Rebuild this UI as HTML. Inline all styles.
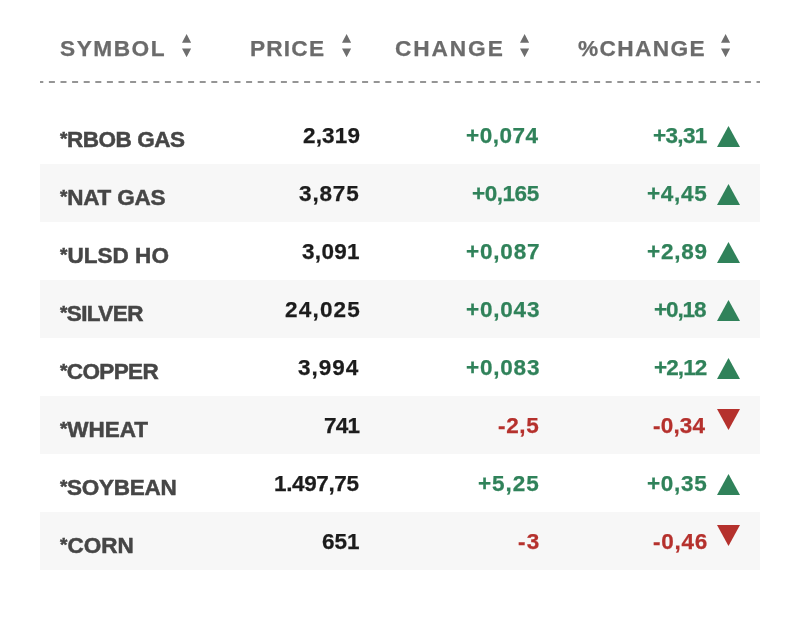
<!DOCTYPE html><html><head><meta charset="utf-8"><title>Commodities</title><style>
*{margin:0;padding:0;box-sizing:border-box}
html,body{width:800px;height:640px;background:#fff;overflow:hidden}
body{position:relative;font-family:"Liberation Sans",Arial,sans-serif;font-weight:bold}
.sym,.num,.h{will-change:transform}
.sym{-webkit-text-stroke:0.5px currentColor}
.num{-webkit-text-stroke:0.25px currentColor}
.h{-webkit-text-stroke:0.25px currentColor}
.h{position:absolute;top:38px;font-size:22.7px;line-height:20px;color:#6b6b6b;white-space:nowrap}
.s{position:absolute;top:34.1px}
.dash{position:absolute;left:0;top:0}
.row{position:absolute;left:40px;width:720px;height:58px}
.row.z{background:#f7f7f7}
.sym{position:absolute;left:20px;top:24.0px;font-size:22.5px;line-height:20px;color:#464646;white-space:nowrap}
.num{position:absolute;top:20.0px;font-size:22.5px;line-height:20px;white-space:nowrap;text-align:right}
.pr{color:#1c1c1c}
.g{color:#30825a}
.r{color:#b5312d}
.a{font-size:19px;position:relative;top:-2.4px;margin-right:0.0px;margin-left:0px}
.tri{position:absolute;left:677px}
</style></head><body>
<div class="h" style="left:59.51px;letter-spacing:1.496px">SYMBOL</div>
<div class="h" style="left:249.92px;letter-spacing:1.177px">PRICE</div>
<div class="h" style="left:394.77px;letter-spacing:1.896px">CHANGE</div>
<div class="h" style="left:577.82px;letter-spacing:1.338px">%CHANGE</div>
<svg class="s" style="left:182.00px" width="9.2" height="23.2" viewBox="0 0 9.2 23.2"><path d="M4.6 0L9.2 8.8H0Z M0 14.4H9.2L4.6 23.2Z" fill="#6e6e6e"/></svg>
<svg class="s" style="left:341.60px" width="9.2" height="23.2" viewBox="0 0 9.2 23.2"><path d="M4.6 0L9.2 8.8H0Z M0 14.4H9.2L4.6 23.2Z" fill="#6e6e6e"/></svg>
<svg class="s" style="left:519.80px" width="9.2" height="23.2" viewBox="0 0 9.2 23.2"><path d="M4.6 0L9.2 8.8H0Z M0 14.4H9.2L4.6 23.2Z" fill="#6e6e6e"/></svg>
<svg class="s" style="left:721.25px" width="9.2" height="23.2" viewBox="0 0 9.2 23.2"><path d="M4.6 0L9.2 8.8H0Z M0 14.4H9.2L4.6 23.2Z" fill="#6e6e6e"/></svg>
<svg class="dash" width="800" height="100"><line x1="40" y1="82" x2="760" y2="82" stroke="#959595" stroke-width="2" stroke-dasharray="6 5.6" stroke-dashoffset="2.7"/></svg>
<div class="row" style="top:106px"><div class="sym" style="letter-spacing:-0.455px;margin-left:0.01px"><span class="a">*</span>RBOB GAS</div><div class="num pr" style="right:400.32px;letter-spacing:0.168px">2,319</div><div class="num g" style="right:221.19px;letter-spacing:0.518px">+0,074</div><div class="num g" style="right:53.52px;letter-spacing:-0.672px">+3,31</div><svg class="tri" style="top:19.75px" width="23" height="21"><path d="M11.5 0L23 21H0Z" fill="#30825a"/></svg></div>
<div class="row z" style="top:164px"><div class="sym" style="letter-spacing:-0.212px;margin-left:0.03px"><span class="a">*</span>NAT GAS</div><div class="num pr" style="right:400.10px;letter-spacing:0.865px">3,875</div><div class="num g" style="right:221.50px;letter-spacing:-0.460px">+0,165</div><div class="num g" style="right:52.41px;letter-spacing:0.679px">+4,45</div><svg class="tri" style="top:19.75px" width="23" height="21"><path d="M11.5 0L23 21H0Z" fill="#30825a"/></svg></div>
<div class="row" style="top:222px"><div class="sym" style="letter-spacing:0.033px;margin-left:0.01px"><span class="a">*</span>ULSD HO</div><div class="num pr" style="right:399.80px;letter-spacing:0.325px">3,091</div><div class="num g" style="right:219.83px;letter-spacing:0.820px">+0,087</div><div class="num g" style="right:51.99px;letter-spacing:0.746px">+2,89</div><svg class="tri" style="top:19.75px" width="23" height="21"><path d="M11.5 0L23 21H0Z" fill="#30825a"/></svg></div>
<div class="row z" style="top:280px"><div class="sym" style="letter-spacing:-0.600px;margin-left:0.03px"><span class="a">*</span>SILVER</div><div class="num pr" style="right:399.06px;letter-spacing:1.204px">24,025</div><div class="num g" style="right:219.94px;letter-spacing:0.800px">+0,043</div><div class="num g" style="right:54.34px;letter-spacing:-1.103px">+0,18</div><svg class="tri" style="top:19.75px" width="23" height="21"><path d="M11.5 0L23 21H0Z" fill="#30825a"/></svg></div>
<div class="row" style="top:338px"><div class="sym" style="letter-spacing:-0.611px;margin-left:0.01px"><span class="a">*</span>COPPER</div><div class="num pr" style="right:400.33px;letter-spacing:1.010px">3,994</div><div class="num g" style="right:219.93px;letter-spacing:0.800px">+0,083</div><div class="num g" style="right:53.84px;letter-spacing:-0.893px">+2,12</div><svg class="tri" style="top:19.75px" width="23" height="21"><path d="M11.5 0L23 21H0Z" fill="#30825a"/></svg></div>
<div class="row z" style="top:396px"><div class="sym" style="letter-spacing:-0.060px;margin-left:0.03px"><span class="a">*</span>WHEAT</div><div class="num pr" style="right:401.03px;letter-spacing:-0.810px">741</div><div class="num r" style="right:220.26px;letter-spacing:0.640px">-2,5</div><div class="num r" style="right:55.13px;letter-spacing:0.188px">-0,34</div><svg class="tri" style="top:12.9px" width="23" height="21"><path d="M0 0H23L11.5 21Z" fill="#b5312d"/></svg></div>
<div class="row" style="top:454px"><div class="sym" style="letter-spacing:-0.287px;margin-left:0.01px"><span class="a">*</span>SOYBEAN</div><div class="num pr" style="right:400.93px;letter-spacing:-0.372px">1.497,75</div><div class="num g" style="right:220.74px;letter-spacing:0.935px">+5,25</div><div class="num g" style="right:52.30px;letter-spacing:0.696px">+0,35</div><svg class="tri" style="top:19.75px" width="23" height="21"><path d="M11.5 0L23 21H0Z" fill="#30825a"/></svg></div>
<div class="row z" style="top:512px"><div class="sym" style="letter-spacing:0.032px;margin-left:0.03px"><span class="a">*</span>CORN</div><div class="num pr" style="right:400.44px;letter-spacing:-0.005px">651</div><div class="num r" style="right:219.83px;letter-spacing:1.290px">-3</div><div class="num r" style="right:52.41px;letter-spacing:0.747px">-0,46</div><svg class="tri" style="top:12.9px" width="23" height="21"><path d="M0 0H23L11.5 21Z" fill="#b5312d"/></svg></div>
</body></html>
